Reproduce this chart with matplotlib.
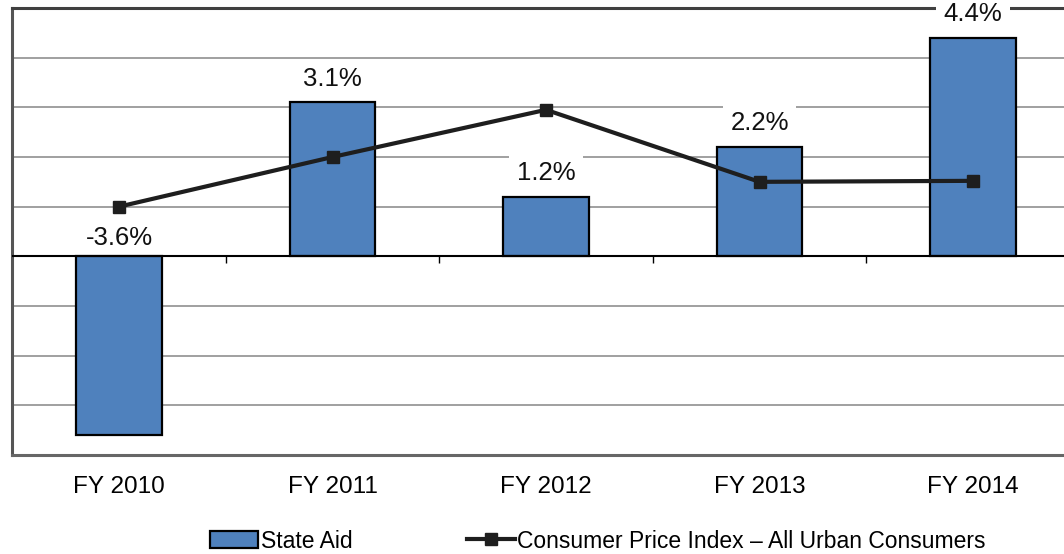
import numpy as np
import matplotlib
matplotlib.use("Agg")
import matplotlib.pyplot as plt

plt.rcParams['font.family'] = ['Liberation Sans', 'DejaVu Sans']

years = ["FY 2010", "FY 2011", "FY 2012", "FY 2013", "FY 2014"]
state_aid = [-3.6, 3.1, 1.2, 2.2, 4.4]
cpi = [1.0, 2.0, 2.95, 1.5, 1.52]

fig = plt.figure(figsize=(10.64, 5.54), dpi=100)
# right edge of the plot area runs past the picture, as in the original
ax = fig.add_axes([12.25 / 1064, 1 - 455 / 554, 1067.5 / 1064, 447 / 554])

x = np.arange(len(years))
ax.set_xlim(-0.5, len(years) - 0.5)
ax.set_ylim(-4, 5)

# gridlines
ax.set_yticks(np.arange(-4, 6, 1))
ax.yaxis.grid(True, color='#868686', linewidth=1.1)
ax.set_axisbelow(True)
ax.tick_params(axis='y', length=0, labelleft=False)
ax.axhline(0, color='black', linewidth=1.5, zorder=2.1)

bar_h = ax.bar(x, state_aid, width=0.4, color='#4F81BD', edgecolor='black',
               linewidth=1.6, label='State Aid', zorder=2)
line_h, = ax.plot(x, cpi, color='#1e1e1e', linewidth=3, marker='s', markersize=9,
                  label='Consumer Price Index \u2013 All Urban Consumers', zorder=3)

for xi, v in zip(x, state_aid):
    ax.annotate(f"{v:.1f}%", (xi, max(v, 0)), xytext=(0, 17 if v > 0 else 13),
                textcoords='offset points', ha='center', va='center',
                fontsize=18.5, color='#111111', zorder=1.8, annotation_clip=False,
                bbox=dict(boxstyle='square,pad=0.3', fc='white', ec='none'))

ax.set_xticks(x)
ax.set_xticklabels(years, fontsize=17.5)
ax.tick_params(axis='x', length=0, pad=15)

# tick marks between categories on the zero line
sec = ax.secondary_xaxis(4 / 9)
sec.set_xticks(np.arange(0.5, len(years) - 0.5, 1))
sec.tick_params(length=5, width=1, labelbottom=False, color='black')
sec.spines['bottom'].set_visible(False)

for side in ['top', 'left', 'bottom', 'right']:
    ax.spines[side].set_linewidth(2.2)
    ax.spines[side].set_zorder(1.7)  # labels sit on top of the frame
ax.spines['top'].set_color('#404040')
ax.spines['left'].set_color('#555555')
ax.spines['bottom'].set_color('#666666')

fig.legend([bar_h, line_h], [bar_h.get_label(), line_h.get_label()],
           loc='center', bbox_to_anchor=(598 / 1064, 1 - 541 / 554),
           ncol=2, frameon=False, fontsize=16.5, handlelength=2.1,
           handletextpad=0.1, columnspacing=5.0, borderpad=0)

fig.savefig("out.png", dpi=100)
